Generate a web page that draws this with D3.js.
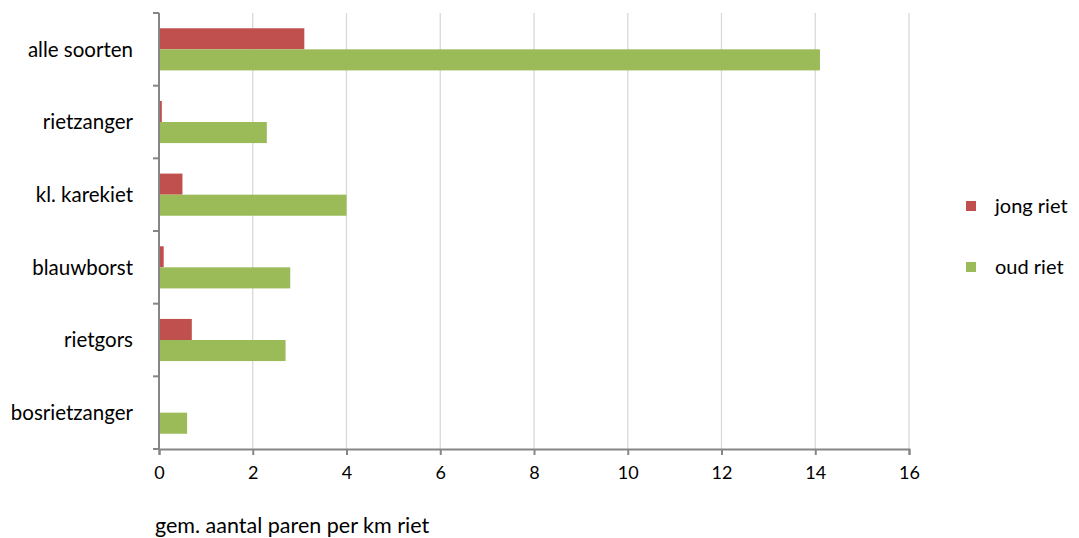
<!DOCTYPE html>
<html><head><meta charset="utf-8">
<script src="https://cdn.jsdelivr.net/npm/d3@7"></script>
<style>
body{margin:0;background:#fff;}
text{font-family:Lato, "Open Sans", sans-serif;fill:#000;}
</style></head>
<body><svg id="c" width="1079" height="538"></svg>
<script>
const categories = ["alle soorten","rietzanger","kl. karekiet","blauwborst","rietgors","bosrietzanger"];
const seriesNames = ["jong riet","oud riet"];
const jongRiet = [3.1, 0.06, 0.5, 0.1, 0.7, 0];
const oudRiet = [14.1, 2.3, 4.0, 2.8, 2.7, 0.6];
const xTicks = [0,2,4,6,8,10,12,14,16];
const colors = ["#C0504D","#9BBB59"];
const axisTitle = "gem. aantal paren per km riet";

(function(){
const svg = d3.select("#c");
const mLeft = 159, mRight = 909, mTop = 13, mBottom = 449;
const x = d3.scaleLinear().domain([0,16]).range([mLeft,mRight]);
const y = d3.scaleBand().domain(categories).range([mTop,mBottom]).paddingInner(0.42).paddingOuter(0.21);
const sub = d3.scaleBand().domain(seriesNames).range([0,y.bandwidth()]);

// gridlines
svg.append("g").selectAll("line").data(xTicks.slice(1)).join("line")
  .attr("x1",d=>x(d)).attr("x2",d=>x(d)).attr("y1",mTop).attr("y2",mBottom)
  .attr("stroke","#d9d9d9").attr("stroke-width",1.3);

const data = categories.map((c,i)=>({c, vals:[jongRiet[i], oudRiet[i]]}));
svg.append("g").selectAll("g").data(data).join("g")
  .attr("transform",d=>`translate(0,${y(d.c)})`)
  .selectAll("rect").data(d=>d.vals.map((v,j)=>({v,s:seriesNames[j],j}))).join("rect")
  .attr("x",x(0)).attr("y",d=>sub(d.s)).attr("height",sub.bandwidth())
  .attr("width",d=>x(d.v)-x(0)).attr("fill",d=>colors[d.j]);

// y axis
const yAxisBand = d3.scaleBand().domain(categories).range([mTop,mBottom]);
const ya = svg.append("g").attr("transform",`translate(${mLeft},0)`);
ya.append("line").attr("x1",0).attr("x2",0).attr("y1",mTop).attr("y2",mBottom).attr("stroke","#868686").attr("stroke-width",2);
const yTickPos = categories.map(c=>yAxisBand(c)).concat([mBottom]);
ya.selectAll("line.t").data(yTickPos).join("line").attr("class","t")
  .attr("x1",-6).attr("x2",0).attr("y1",d=>d).attr("y2",d=>d).attr("stroke","#868686").attr("stroke-width",2);
ya.selectAll("text").data(categories).join("text")
  .attr("x",-26).attr("y",d=>yAxisBand(d)+yAxisBand.bandwidth()/2).attr("dy","0.35em")
  .attr("text-anchor","end").style("font-size","20.5px").text(d=>d);

// x axis
const xa = svg.append("g").attr("transform",`translate(0,${mBottom})`)
  .call(d3.axisBottom(x).tickValues(xTicks).tickSize(6).tickPadding(11).tickFormat(d3.format("d")));
xa.select(".domain").attr("stroke","#868686").attr("stroke-width",2);
xa.selectAll(".tick line").attr("stroke","#868686").attr("stroke-width",2);
xa.selectAll(".tick text").style("font-size","18px").attr("font-family","Lato").attr("fill","#000");

svg.append("text").attr("x",155).attr("y",533).style("font-size","21.5px").text(axisTitle);

// legend
const lg = svg.append("g");
seriesNames.forEach((s,i)=>{
  const yy = 206 + i*61;
  lg.append("rect").attr("x",966).attr("y",yy-5).attr("width",10).attr("height",10).attr("fill",colors[i]);
  lg.append("text").attr("x",995).attr("y",yy).attr("dy","0.35em").style("font-size","20px").text(s);
});
})();
</script></body></html>
